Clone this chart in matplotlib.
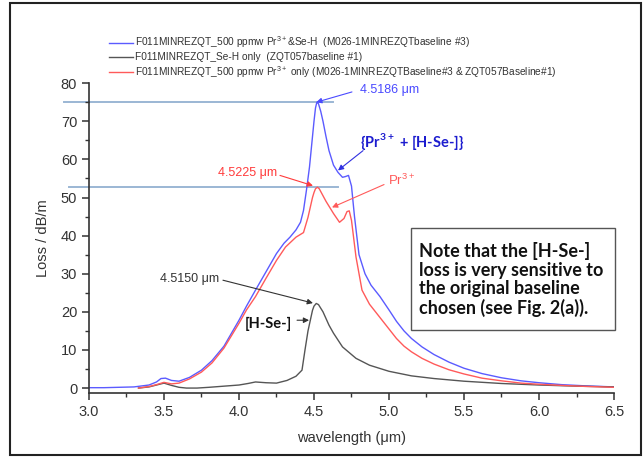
import matplotlib
matplotlib.use("Agg")
import matplotlib.pyplot as plt
from matplotlib.patches import Rectangle
from matplotlib.ticker import MultipleLocator, FormatStrFormatter

plt.rcParams['font.family'] = ['Liberation Sans', 'DejaVu Sans']
plt.rcParams['mathtext.fontset'] = 'custom'
plt.rcParams['mathtext.rm'] = 'Liberation Sans'
plt.rcParams['mathtext.bf'] = 'Lato:bold'

# --- data ---
wl_blue = [3.00, 3.10, 3.20, 3.30, 3.40, 3.45, 3.48, 3.51, 3.55, 3.60, 3.67, 3.75,
           3.82, 3.90, 4.00, 4.05, 4.11, 4.18, 4.25, 4.30, 4.34, 4.38, 4.41, 4.43,
           4.45, 4.47, 4.49, 4.50, 4.51, 4.519, 4.53, 4.545, 4.56, 4.58, 4.60, 4.63,
           4.66, 4.69, 4.71, 4.73, 4.75, 4.77, 4.80, 4.84, 4.88, 4.94, 5.00, 5.05,
           5.10, 5.15, 5.22, 5.30, 5.40, 5.50, 5.62, 5.75, 5.88, 6.00, 6.15, 6.30, 6.50]
loss_blue = [0.1, 0.1, 0.2, 0.3, 0.8, 1.6, 2.5, 2.6, 2.0, 1.8, 2.8, 4.7,
             7.2, 11.0, 17.8, 21.5, 25.7, 30.5, 35.3, 38.0, 39.6, 41.5, 43.5, 46.6,
             52.0, 58.0, 66.0, 70.0, 73.5, 75.0, 74.6, 72.6, 70.0, 66.0, 62.3, 58.5,
             56.6, 55.3, 55.5, 55.8, 53.0, 45.0, 35.0, 30.0, 27.0, 24.0, 20.5, 17.5,
             15.0, 13.0, 10.8, 8.8, 6.8, 5.2, 3.8, 2.7, 1.9, 1.4, 0.9, 0.6, 0.3]

wl_red = [3.33, 3.40, 3.45, 3.50, 3.55, 3.60, 3.67, 3.75, 3.82, 3.90, 4.00, 4.05,
          4.11, 4.18, 4.25, 4.31, 4.38, 4.43, 4.46, 4.49, 4.50, 4.51, 4.5225, 4.535,
          4.55, 4.58, 4.63, 4.67, 4.70, 4.72, 4.735, 4.75, 4.78, 4.82, 4.87, 4.94,
          5.00, 5.05, 5.10, 5.15, 5.22, 5.30, 5.40, 5.50, 5.62, 5.75, 5.88, 6.00,
          6.15, 6.30, 6.50]
loss_red = [0.0, 0.4, 0.9, 1.5, 1.1, 1.3, 2.4, 4.2, 6.6, 10.5, 17.0, 20.5,
            24.0, 28.8, 33.5, 37.0, 39.6, 40.8, 44.8, 50.0, 51.3, 52.3, 52.7, 52.3,
            51.2, 49.0, 45.8, 43.5, 44.5, 46.3, 46.5, 44.0, 34.4, 25.7, 22.0, 18.5,
            15.5, 13.0, 11.0, 9.5, 7.8, 6.3, 4.8, 3.7, 2.6, 1.9, 1.3, 1.0,
            0.7, 0.45, 0.2]

wl_grey = [3.33, 3.40, 3.45, 3.50, 3.55, 3.60, 3.65, 3.72, 3.80, 3.90, 4.00, 4.06,
           4.11, 4.18, 4.25, 4.32, 4.38, 4.42, 4.44, 4.46, 4.49, 4.50, 4.515, 4.53,
           4.56, 4.60, 4.63, 4.69, 4.78, 4.87, 5.00, 5.15, 5.30, 5.50, 5.75, 6.00,
           6.25, 6.50]
loss_grey = [0.0, 0.3, 0.8, 1.3, 0.7, 0.2, 0.0, 0.0, 0.2, 0.5, 0.8, 1.2,
             1.6, 1.4, 1.3, 2.0, 3.1, 4.7, 10.0, 15.0, 20.4, 21.5, 22.2, 21.9,
             20.0, 16.5, 14.4, 10.8, 7.8, 6.0, 4.4, 3.2, 2.5, 1.8, 1.2, 0.8,
             0.5, 0.3]

labels = [r"F011MINREZQT_500 ppmw Pr$^{3+}$&Se-H  (M026-1MINREZQTbaseline #3)",
          "F011MINREZQT_Se-H only  (ZQT057baseline #1)",
          r"F011MINREZQT_500 ppmw Pr$^{3+}$ only (M026-1MINREZQTBaseline#3 & ZQT057Baseline#1)"]

peak_blue = 75.1
peak_red = 52.7

c_blue = '#5b5bff'
c_grey = '#555555'
c_red = '#ff5a5a'
c_ref = '#9bb7d4'

fig = plt.figure(figsize=(6.43, 4.57), dpi=100)
ax = fig.add_axes([0.1384, 0.140, 0.8165, 0.678])

l1, = ax.plot(wl_blue, loss_blue, color=c_blue, lw=1.0)
l2, = ax.plot(wl_grey, loss_grey, color=c_grey, lw=1.0)
l3, = ax.plot(wl_red, loss_red, color=c_red, lw=1.0)

# horizontal reference lines at the two peaks
ax.plot([2.833, 4.627], [peak_blue, peak_blue], color=c_ref, lw=1.4, clip_on=False, zorder=1)
ax.plot([2.867, 4.66], [peak_red, peak_red], color=c_ref, lw=1.4, clip_on=False, zorder=1)

ax.set_xlim(3.0, 6.5)
ax.set_ylim(-1.3, 80)
ax.xaxis.set_major_locator(MultipleLocator(0.5))
ax.xaxis.set_minor_locator(MultipleLocator(0.25))
ax.xaxis.set_major_formatter(FormatStrFormatter('%.1f'))
ax.yaxis.set_major_locator(MultipleLocator(10))
ax.yaxis.set_minor_locator(MultipleLocator(5))
for s in ['top', 'right']:
    ax.spines[s].set_visible(False)
for s in ['left', 'bottom']:
    ax.spines[s].set_color('#333333')
    ax.spines[s].set_linewidth(1.2)
ax.tick_params(which='major', direction='out', length=5, width=1.1, colors='#333333',
               labelsize=10.5)
ax.tick_params(which='minor', direction='out', length=3, width=1.0, colors='#333333')
ax.set_xlabel("wavelength (\u03bcm)", fontsize=10.5, color='#333333', labelpad=9)
ax.set_ylabel("Loss / dB/m", fontsize=10.5, color='#333333', labelpad=8)

arr = dict(arrowstyle='-|>', lw=0.8, mutation_scale=8, shrinkA=0, shrinkB=0)

# annotations
ax.text(4.807, 78.3, "4.5186 \u03bcm", color='#4a4aff', fontsize=9, ha='left', va='center')
ax.annotate('', xy=(4.515, 75.0), xytext=(4.753, 77.7), arrowprops=dict(arr, color='#4a4aff'))

ax.text(4.807, 64.7, r"{Pr$^{\mathbf{3+}}$ + [H-Se-]}", color='#1c1ccf', fontsize=10.5,
        fontweight='bold', family=['Lato', 'DejaVu Sans'], ha='left', va='center')
ax.annotate('', xy=(4.66, 57.1), xytext=(4.827, 62.3), arrowprops=dict(arr, color='#3030e0'))

ax.text(4.993, 54.4, "Pr$^{3+}$", color=c_red, fontsize=9.5, ha='left', va='center')
ax.annotate('', xy=(4.62, 47.4), xytext=(4.967, 53.4), arrowprops=dict(arr, color=c_red))

ax.text(3.86, 56.5, "4.5225 \u03bcm", color='#ff3b3b', fontsize=9, ha='left', va='center')
ax.annotate('', xy=(4.493, 53.1), xytext=(4.273, 55.8), arrowprops=dict(arr, color='#ff3b3b'))

ax.text(3.473, 28.5, "4.5150 \u03bcm", color='#333333', fontsize=9, ha='left', va='center')
ax.annotate('', xy=(4.493, 22.3), xytext=(3.893, 28.3), arrowprops=dict(arr, color='#333333'))

ax.text(4.04, 16.75, "[H-Se-]", color='#111111', fontsize=10.5, fontweight='bold',
        family=['Lato', 'DejaVu Sans'], ha='left', va='center')
ax.annotate('', xy=(4.467, 17.8), xytext=(4.387, 17.8), arrowprops=dict(arr, color='#333333'))

# note box
ax.add_patch(Rectangle((5.147, 15.2), 1.36, 26.7, fill=False, edgecolor='#555555',
                       lw=1.0, clip_on=False, zorder=3))
ax.text(5.20, 28.5, "Note that the [H-Se-]\nloss is very sensitive to\nthe original baseline\nchosen (see Fig. 2(a)).",
        fontsize=13, fontweight='bold', family=['Lato', 'DejaVu Sans'], color='#111111',
        ha='left', va='center', linespacing=1.1)

# legend above the axes
fig.legend([l1, l2, l3], labels, loc='upper left', bbox_to_anchor=(0.170, 0.925),
           frameon=False, fontsize=7.3, handlelength=2.3, handletextpad=0.2,
           labelspacing=0.2, borderpad=0, borderaxespad=0, labelcolor='#333333')

# outer frame
fig.add_artist(Rectangle((10 / 643, 2 / 457), 631 / 643, 452 / 457, transform=fig.transFigure,
                         fill=False, edgecolor='#222222', lw=1.5))

fig.savefig("out.png", dpi=100)
